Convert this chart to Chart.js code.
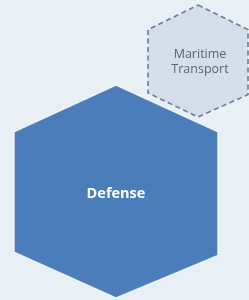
<!DOCTYPE html>
<html>
<head>
<meta charset="utf-8">
<script src="https://cdn.jsdelivr.net/npm/chart.js@4/dist/chart.umd.min.js"></script>
<style>
  html, body { margin: 0; padding: 0; background: #e8eff5; }
  #wrap { width: 249px; height: 300px; }
</style>
</head>
<body>
<div id="wrap"><canvas id="myChart"></canvas></div>
<script>
// nodes of the diagram
const nodeLabels = ['Defense', 'Maritime Transport'];
const nodeX = [116, 198];
const nodeY = [191.5, 61];
const nodeHalfW = [102, 50];
const nodeHalfH = [106.5, 56];

// hexagon outline, unit offsets (pointy top)
const hexShape = [[0, -1], [1, -0.56], [1, 0.6], [0, 1], [-1, 0.57], [-1, -0.56], [0, -1]];

const hexPoints = (i) => hexShape.map(([dx, dy]) => ({
    x: nodeX[i] + dx * nodeHalfW[i],
    y: nodeY[i] + dy * nodeHalfH[i]
}));

// text inside the hexagons
const labelPlugin = {
    id: 'hexLabels',
    afterDatasetsDraw(chart) {
        const { ctx, scales } = chart;
        ctx.save();
        ctx.textAlign = 'center';
        ctx.textBaseline = 'middle';
        // Defense
        ctx.fillStyle = '#ffffff';
        ctx.font = 'bold 14.5px "Open Sans"';
        ctx.fillText(nodeLabels[0], scales.x.getPixelForValue(nodeX[0]), scales.y.getPixelForValue(nodeY[0] + 2));
        // Maritime Transport on two lines
        ctx.fillStyle = '#586477';
        ctx.font = '12.5px "Open Sans"';
        const words = nodeLabels[1].split(' ');
        const cx = scales.x.getPixelForValue(nodeX[1] + 2);
        ctx.fillText(words[0], cx, scales.y.getPixelForValue(nodeY[1] - 7));
        ctx.fillText(words[1], cx, scales.y.getPixelForValue(nodeY[1] + 8));
        ctx.restore();
    }
};

const ctx = document.getElementById('myChart').getContext('2d');
new Chart(ctx, {
    type: 'scatter',
    data: {
        datasets: [{
            label: nodeLabels[0],
            data: hexPoints(0),
            showLine: true,
            fill: 'shape',
            backgroundColor: '#4a7dba',
            borderColor: 'rgba(255,255,255,0.8)',
            borderWidth: 1.5,
            pointRadius: 0,
            tension: 0,
            order: 1
        }, {
            label: nodeLabels[1],
            data: hexPoints(1),
            showLine: true,
            fill: 'shape',
            backgroundColor: '#d4deea',
            borderColor: '#6b7d97',
            borderWidth: 1.6,
            borderDash: [5, 3.5],
            pointRadius: 0,
            tension: 0,
            order: 2
        }]
    },
    options: {
        responsive: true,
        maintainAspectRatio: false,
        animation: false,
        layout: { padding: 0 },
        plugins: {
            legend: { display: false },
            tooltip: { enabled: false }
        },
        scales: {
            x: { type: 'linear', min: 0, max: 249, display: false },
            y: { type: 'linear', min: 0, max: 300, reverse: true, display: false }
        }
    },
    plugins: [labelPlugin]
});
</script>
</body>
</html>
